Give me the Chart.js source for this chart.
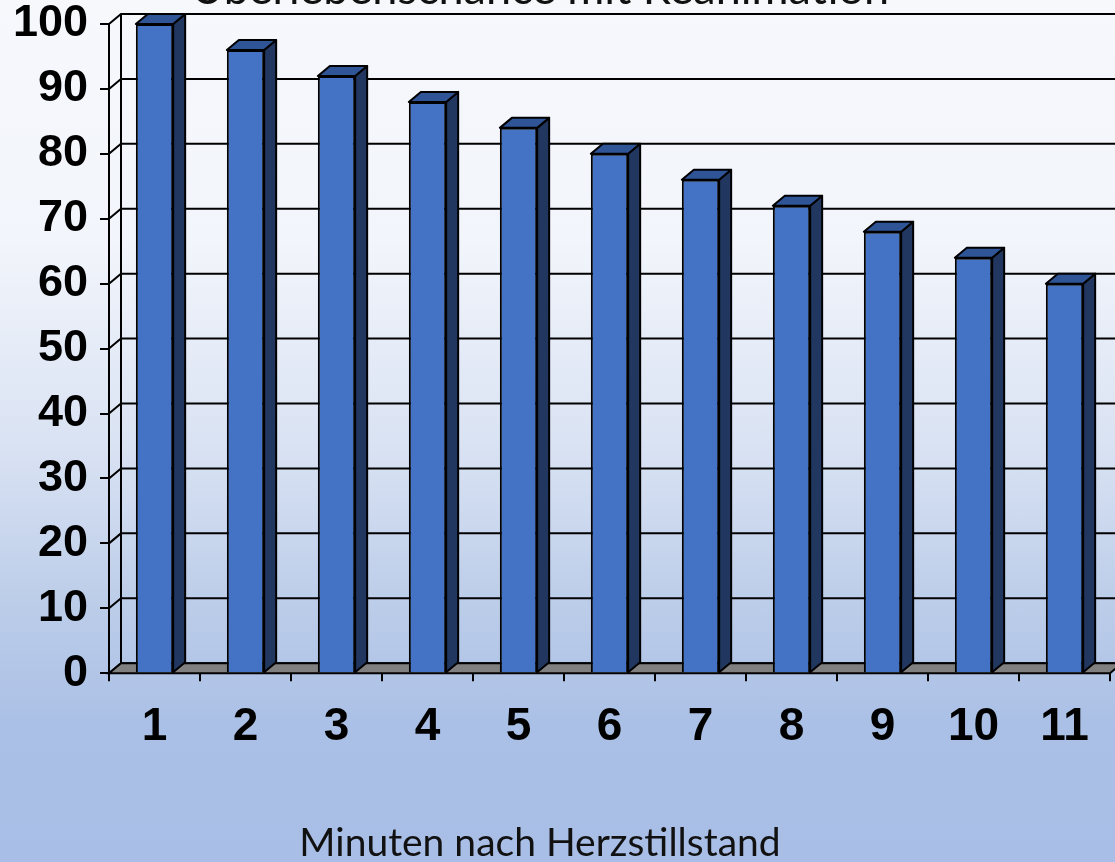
<!DOCTYPE html>
<html>
<head>
<meta charset="utf-8">
<title>Überlebenschance mit Reanimation</title>
<script src="https://cdn.jsdelivr.net/npm/chart.js@4/dist/chart.umd.min.js"></script>
<style>
  html, body {
    margin: 0;
    width: 1115px;
    height: 862px;
    overflow: hidden;
  }
  body {
    position: relative;
    background: linear-gradient(to bottom, #f6f8fc 0%, #f2f5fb 28%, #d9e2f3 52%, #bccde9 70%, #abc0e6 84%, #a9bee6 100%);
  }
  #chart {
    position: absolute;
    left: -30px;
    top: -43px;
  }
</style>
</head>
<body>
<canvas id="chart" width="1145" height="915"></canvas>
<script>
const titleText = "Überlebenschance mit Reanimation";
const xTitle = "Minuten nach Herzstillstand";
const minutes = ["1", "2", "3", "4", "5", "6", "7", "8", "9", "10", "11"];
const chances = [100, 96, 92, 88, 84, 80, 76, 72, 68, 64, 60];
const yTicks = [0, 10, 20, 30, 40, 50, 60, 70, 80, 90, 100];

// depth of the fake 3d box
const DX = 12;
const DY = -10;

const frontColor = "#4472c4";
const sideColor = "#22375f";
const topColor = "#2f5597";

function poly(ctx, pts, fill) {
  ctx.beginPath();
  ctx.moveTo(pts[0][0], pts[0][1]);
  for (let i = 1; i < pts.length; i++) ctx.lineTo(pts[i][0], pts[i][1]);
  ctx.closePath();
  if (fill) {
    ctx.fillStyle = fill;
    ctx.fill();
  }
  ctx.stroke();
}

const box3d = {
  id: "box3d",
  beforeDatasetsDraw(chart) {
    const ctx = chart.ctx;
    const ys = chart.scales.y;
    const { left, right } = chart.chartArea;
    const y0 = ys.getPixelForValue(0);
    const yMax = ys.getPixelForValue(100);

    ctx.save();
    ctx.strokeStyle = "#000";
    ctx.lineWidth = 2;

    // back wall grid + little diagonals from the front axis
    yTicks.forEach(v => {
      const y = ys.getPixelForValue(v);
      ctx.beginPath();
      ctx.moveTo(left, y);
      ctx.lineTo(left + DX, y + DY);
      ctx.lineTo(right + DX, y + DY);
      ctx.stroke();
    });
    ctx.beginPath();
    ctx.moveTo(left + DX, y0 + DY);
    ctx.lineTo(left + DX, yMax + DY);
    ctx.stroke();

    // floor
    poly(ctx, [[left, y0], [right, y0], [right + DX, y0 + DY], [left + DX, y0 + DY]], "#808080");
    ctx.restore();
  },
  afterDatasetsDraw(chart) {
    const ctx = chart.ctx;
    const meta = chart.getDatasetMeta(0);
    ctx.save();
    ctx.strokeStyle = "#000";
    ctx.lineWidth = 2;
    ctx.lineJoin = "round";
    meta.data.forEach(bar => {
      const { x, y, width, base } = bar.getProps(["x", "y", "width", "base"], true);
      const l = x - width / 2;
      const r = x + width / 2;
      poly(ctx, [[r, y], [r + DX, y + DY], [r + DX, base + DY], [r, base]], sideColor);
      poly(ctx, [[l, y], [l + DX, y + DY], [r + DX, y + DY], [r, y]], topColor);
    });
    ctx.restore();
  }
};

const ctx = document.getElementById("chart").getContext("2d");

new Chart(ctx, {
  type: "bar",
  data: {
    labels: minutes,
    datasets: [{
      data: chances,
      backgroundColor: frontColor,
      borderColor: "#000",
      borderWidth: 2,
      categoryPercentage: 1,
      barPercentage: 0.41
    }]
  },
  options: {
    responsive: false,
    animation: false,
    devicePixelRatio: 1,
    layout: { padding: { left: 0, right: 5, top: 0, bottom: 0 } },
    plugins: {
      legend: { display: false },
      tooltip: { enabled: false },
      title: {
        display: true,
        text: titleText,
        color: "#111",
        font: { family: "Lato", size: 45, weight: "normal" },
        padding: { top: 5, bottom: 8 }
      },
      // axis caption sits centred on the whole slide, not on the plot
      subtitle: {
        display: true,
        position: "bottom",
        text: xTitle,
        color: "#111",
        font: { family: "Lato", size: 39, weight: "normal" },
        padding: { top: 0, bottom: 5 }
      }
    },
    scales: {
      x: {
        afterFit: s => { s.height = 147; },
        grid: {
          display: true,
          drawOnChartArea: false,
          drawTicks: true,
          tickLength: 8,
          color: "#000",
          lineWidth: 2
        },
        border: { display: true, color: "#000", width: 2 },
        ticks: {
          color: "#000",
          padding: 19,
          maxRotation: 0,
          font: { family: "'Liberation Sans Narrow', 'Liberation Sans', sans-serif", size: 46, weight: "bold" }
        }
      },
      y: {
        min: 0,
        max: 100,
        afterFit: s => { s.width = 139; },
        grid: {
          display: true,
          drawOnChartArea: false,
          drawTicks: true,
          tickLength: 9,
          color: "#000",
          lineWidth: 2
        },
        border: { display: true, color: "#000", width: 2 },
        ticks: {
          stepSize: 10,
          color: "#000",
          padding: 12,
          font: { family: "'Liberation Sans', Arial, sans-serif", size: 45, weight: "bold" }
        }
      }
    }
  },
  plugins: [box3d]
});
</script>
</body>
</html>
